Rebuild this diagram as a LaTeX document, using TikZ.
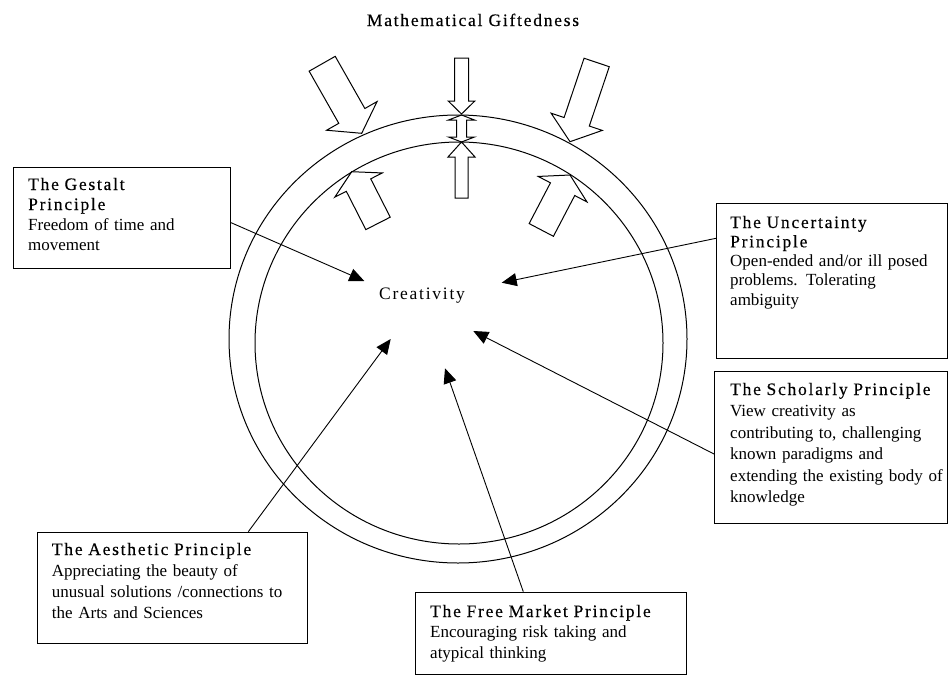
\documentclass[tikz,border=0pt]{standalone}
\usepackage{fontspec}
\setmainfont{Liberation Serif}
\newfontfamily\headfont[LetterSpace=10,FakeBold=0.3]{Liberation Serif}
\newfontfamily\creatfont[LetterSpace=10]{Liberation Serif}
\usetikzlibrary{arrows.meta,calc}
\newcommand\hd[1]{{\fontsize{17.5}{17.5}\headfont #1}}
\tikzset{
  box/.style={draw, line width=1.1pt, inner sep=0pt, anchor=north west},
  txt/.style={anchor=base west, inner sep=0pt, text width=235pt, align=left,
              font=\fontsize{17}{#1}\selectfont},
  conn/.style={line width=0.9pt, -{Triangle[length=15pt,width=13pt]}},
  ring/.style={line width=1pt},
  blk/.style={draw, line width=1pt, line join=miter}
}
% tip x, tip y, angle, length, shaft half width, head half width, head length
\newcommand\blockarrow[7]{%
  \draw[blk, shift={(#1,#2)}, rotate=#3] (0,0) -- (-#7,#6) -- (-#7,#5) -- (-#4,#5)
    -- (-#4,-#5) -- (-#7,-#5) -- (-#7,-#6) -- cycle;}
\begin{document}
\begin{tikzpicture}[x=1pt,y=-1pt]
\useasboundingbox (0,0) rectangle (949,675);

% title
\node[anchor=base, inner sep=0pt] (title) at (473,26) {\hd{Mathematical Giftedness}};

% rings
\draw[ring] (458,339) ellipse [x radius=229, y radius=224];
\draw[ring] (459,343) ellipse [x radius=204, y radius=201];

% block arrows
\blockarrow{361.7}{133.3}{-60.4}{80}{15}{29}{20}
\blockarrow{570}{141.7}{-108.6}{83.6}{13.3}{27}{21}
\blockarrow{461.5}{114}{-90}{56}{7}{13.3}{13}
\blockarrow{461.5}{142}{90}{56}{6.5}{13.5}{15}
\blockarrow{351.7}{171.7}{117}{58}{13.7}{26.7}{15}
\blockarrow{570}{175}{62.4}{62}{13.7}{27.5}{16}
\draw[blk] (461.5,115) -- (474.5,120) -- (466.5,120) -- (466.5,137) -- (474.5,137)
  -- (461.5,142) -- (448.5,137) -- (456.5,137) -- (456.5,120) -- (448.5,120) -- cycle;

% centre
\node[anchor=base, inner sep=0pt, font=\fontsize{17.5}{20}\selectfont] (creat) at (422,299) {\creatfont Creativity};

% boxes
\node[box, minimum width=217pt, minimum height=101pt] (gestalt) at (13,167) {};
\node[box, minimum width=231pt, minimum height=155.6pt] (uncert) at (716,202.7) {};
\node[box, minimum width=233pt, minimum height=152pt] (schol) at (714,370.7) {};
\node[box, minimum width=270pt, minimum height=111.6pt] (aesth) at (36.7,531.7) {};
\node[box, minimum width=271pt, minimum height=82.3pt] (free) at (415,591.7) {};

% texts
\node[txt=20] (gestaltT) at (28,190) {\hd{The Gestalt}\\ \hd{Principle}\\ Freedom of time and\\ movement};
\node[txt=19.3] (uncertT) at (730,228) {\hd{The Uncertainty}\\ \hd{Principle}\\ Open-ended and/or ill posed\\ problems. Tolerating\\ ambiguity};
\node[txt=21.5] (scholT) at (730,395) {\hd{The Scholarly Principle}\\ View creativity as\\ contributing to, challenging\\ known paradigms and\\ extending the existing body of\\ knowledge};
\node[txt=21] (aesthT) at (51.7,555) {\hd{The Aesthetic Principle}\\ Appreciating the beauty of\\ unusual solutions /connections to\\ the Arts and Sciences};
\node[txt=20.5] (freeT) at (430,617) {\hd{The Free Market Principle}\\ Encouraging risk taking and\\ atypical thinking};

% arrow tips
\coordinate (tG) at (364.3,281);
\coordinate (tU) at (501.7,282.7);
\coordinate (tS) at (473.3,331);
\coordinate (tF) at (445,368.3);
\coordinate (tA) at (390.7,339);

% connectors
\draw[conn] ($(gestalt.north east)+(0,55.7)$) -- (tG);
\draw[conn] ($(uncert.north west)+(0,35.6)$) -- (tU);
\draw[conn] ($(schol.north west)+(0,83.3)$) -- (tS);
\draw[conn] ($(free.north west)+(108.3,0)$) -- (tF);
\draw[conn] ($(aesth.north west)+(211.6,0)$) -- (tA);
\end{tikzpicture}
\end{document}
